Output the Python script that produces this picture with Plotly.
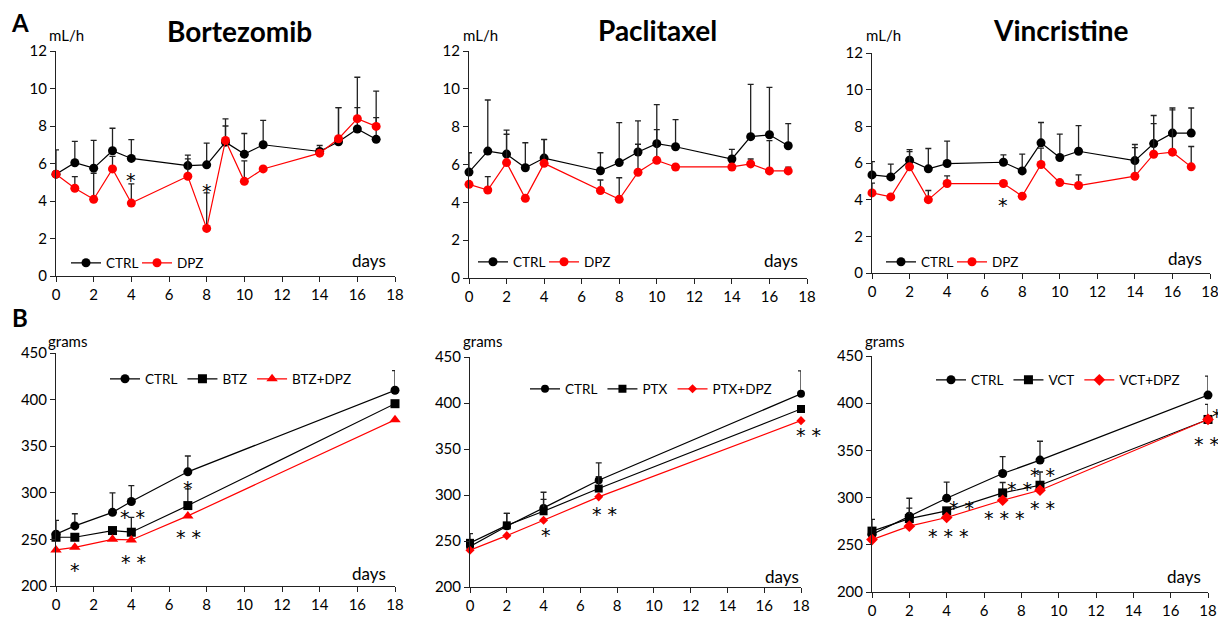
import plotly.graph_objects as go

# page body adds an 8px margin on the top/left; figure fills the rest of the 1226x621 window
OFF = 8
W, H = 1226 - OFF, 621 - OFF
FONT = "Lato"
RED = "#FF0000"
BLK = "#000000"

# ---------------- Panel A: mL/h ----------------
days_A = [0, 1, 2, 3, 4, 7, 8, 9, 10, 11, 14, 15, 16, 17]

btz_ctrl = [5.43, 6.04, 5.75, 6.68, 6.27, 5.89, 5.93, 7.14, 6.50, 7.00, 6.64, 7.16, 7.84, 7.29]
btz_ctrl_sd = [1.30, 1.14, 1.48, 1.20, 1.00, 0.56, 1.16, 1.24, 1.10, 1.30, 0.32, 1.82, 2.76, 2.57]
btz_dpz = [5.43, 4.68, 4.09, 5.71, 3.89, 5.32, 2.54, 7.23, 5.05, 5.71, 6.55, 7.32, 8.39, 7.98]
btz_dpz_sd = [0.00, 0.62, 1.39, 0.67, 1.02, 0.93, 1.89, 0.77, 1.09, 0.00, 0.00, 1.66, 0.59, 0.47]

ptx_ctrl = [5.60, 6.71, 6.55, 5.83, 6.34, 5.67, 6.10, 6.66, 7.10, 6.94, 6.29, 7.47, 7.57, 6.99]
ptx_ctrl_sd = [1.02, 2.70, 1.27, 1.32, 0.99, 0.95, 2.11, 1.65, 2.06, 1.43, 0.51, 2.77, 2.51, 1.17]
ptx_dpz = [4.95, 4.65, 6.10, 4.21, 6.06, 4.62, 4.16, 5.59, 6.22, 5.87, 5.87, 6.03, 5.66, 5.66]
ptx_dpz_sd = [0.00, 0.71, 1.50, 0.00, 1.25, 0.56, 1.14, 1.48, 1.62, 0.00, 0.00, 0.26, 1.60, 0.20]

vct_ctrl = [5.35, 5.24, 6.15, 5.68, 5.97, 6.04, 5.57, 7.10, 6.30, 6.64, 6.13, 7.06, 7.63, 7.63]
vct_ctrl_sd = [0.73, 0.70, 0.58, 1.11, 1.22, 0.40, 0.91, 1.11, 1.27, 1.40, 0.88, 1.53, 1.37, 1.37]
vct_dpz = [4.37, 4.15, 5.79, 4.00, 4.88, 4.88, 4.19, 5.92, 4.93, 4.77, 5.28, 6.48, 6.59, 5.79]
vct_dpz_sd = [0.53, 0.00, 0.83, 0.50, 0.42, 0.00, 0.00, 0.89, 0.00, 0.58, 1.56, 1.67, 2.31, 1.11]

# ---------------- Panel B: grams ----------------
days_B1 = [0, 1, 3, 4, 7, 18]
b1_ctrl = [255.5, 264.5, 279.0, 290.7, 322.5, 410.0]
b1_ctrl_sd = [15, 13, 21, 17, 17, 21]
b1_btz = [252.3, 252.3, 259.5, 257.7, 286.3, 395.6]
b1_btz_sd = [0, 0, 0, 16, 18, 0]
b1_btz_dpz = [238.7, 241.5, 250.1, 249.4, 275.2, 378.4]

days_B2 = [0, 2, 4, 7, 18]
b2_ctrl = [244.0, 266.0, 286.0, 316.0, 410.0]
b2_ctrl_sd = [14, 14, 17, 19, 25]
b2_ptx = [248.0, 267.0, 282.3, 307.0, 393.5]
b2_ptx_sd = [0, 13, 13, 13, 0]
b2_ptx_dpz = [240.0, 255.8, 272.5, 298.0, 380.8]

days_B3 = [0, 2, 4, 7, 9, 18]
b3_ctrl = [261.0, 280.3, 299.4, 325.5, 339.7, 408.6]
b3_ctrl_sd = [16, 19, 17, 18, 20, 20]
b3_vct = [264.5, 277.8, 286.0, 305.0, 313.1, 382.8]
b3_vct_sd = [0, 11, 0, 11, 14, 16]
b3_vct_dpz = [255.5, 269.7, 278.9, 297.2, 307.8, 382.8]

titles = ["Bortezomib", "Paclitaxel", "Vincristine"]

# significance marks: (panel, day, value, text)
stars = [
    (1, 4.0, 5.36, "*"), (1, 8.0, 4.79, "*"),
    (3, 7.0, 3.99, "*"),
    (4, 1.0, 222.5, "*"), (4, 4.06, 279.7, "* *"), (4, 4.1, 231.0, "* *"),
    (4, 7.03, 311.0, "*"), (4, 7.06, 258.3, "* *"),
    (5, 4.13, 262.0, "*"), (5, 7.3, 284.4, "* *"), (5, 18.4, 370.6, "* *"),
    (6, 4.77, 294.0, "* *"), (6, 4.1, 264.6, "* * *"), (6, 7.9, 314.4, "* *"),
    (6, 7.12, 283.4, "* * *"), (6, 9.14, 329.2, "* *"), (6, 9.14, 294.6, "* *"),
    (6, 18.5, 391.8, "*"), (6, 17.9, 361.8, "* *"),
]


def fx(px):
    return (px - OFF) / W


def fy(py):
    return 1 - (py - OFF) / H


# panel pixel boxes in window pixels (left, right, top, bottom)
boxes = {
    1: (56, 395, 51, 276),
    2: (469, 807, 51, 278),
    3: (872, 1210, 53, 273),
    4: (56, 395, 353, 586),
    5: (470, 801, 357, 587),
    6: (872, 1208, 356, 592),
}

fig = go.Figure()


def ax_names(i):
    return ("x" if i == 1 else f"x{i}", "y" if i == 1 else f"y{i}")


def add(i, x, y, name, color, symbol, size, sd=None, legend=None, lw=1.2):
    xa, ya = ax_names(i)
    kw = {}
    if sd is not None:
        kw["error_y"] = dict(type="data", symmetric=False, array=sd,
                             arrayminus=[0] * len(sd), width=3,
                             thickness=1.3, color="#222222")
    fig.add_trace(go.Scatter(
        x=x, y=y, name=name, mode="lines+markers", xaxis=xa, yaxis=ya,
        line=dict(color=color, width=lw),
        marker=dict(color=color, symbol=symbol, size=size),
        cliponaxis=False, legend=legend, **kw))


# Panel A traces
A_data = [(btz_ctrl, btz_ctrl_sd, btz_dpz, btz_dpz_sd),
          (ptx_ctrl, ptx_ctrl_sd, ptx_dpz, ptx_dpz_sd),
          (vct_ctrl, vct_ctrl_sd, vct_dpz, vct_dpz_sd)]
for k, (c, csd, d, dsd) in enumerate(A_data):
    i = k + 1
    lg = "legend" if i == 1 else f"legend{i}"
    add(i, days_A, c, "CTRL", BLK, "circle", 9, csd, lg)
    add(i, days_A, d, "DPZ", RED, "circle", 9, dsd, lg)

# Panel B traces
lg = "legend4"
add(4, days_B1, b1_ctrl, "CTRL", BLK, "circle", 9, b1_ctrl_sd, lg)
add(4, days_B1, b1_btz, "BTZ", BLK, "square", 9, b1_btz_sd, lg)
add(4, days_B1, b1_btz_dpz, "BTZ+DPZ", RED, "triangle-up", 10, None, lg)
lg = "legend5"
add(5, days_B2, b2_ctrl, "CTRL", BLK, "circle", 8, b2_ctrl_sd, lg)
add(5, days_B2, b2_ptx, "PTX", BLK, "square", 8, b2_ptx_sd, lg)
add(5, days_B2, b2_ptx_dpz, "PTX+DPZ", RED, "diamond", 7, None, lg)
lg = "legend6"
add(6, days_B3, b3_ctrl, "CTRL", BLK, "circle", 9, b3_ctrl_sd, lg)
add(6, days_B3, b3_vct, "VCT", BLK, "square", 9, b3_vct_sd, lg)
add(6, days_B3, b3_vct_dpz, "VCT+DPZ", RED, "diamond", 9, None, lg)

layout = dict(width=W, height=H,
              margin=dict(l=0, r=0, t=0, b=0, pad=0, autoexpand=False),
              paper_bgcolor="white", plot_bgcolor="white",
              font=dict(family=FONT, size=15, color="black"))

for i, (l, r, t, b) in boxes.items():
    xa, ya = ax_names(i)
    xk = "xaxis" if i == 1 else f"xaxis{i}"
    yk = "yaxis" if i == 1 else f"yaxis{i}"
    layout[xk] = dict(domain=[fx(l), fx(r)], anchor=ya, range=[0, 18],
                      tickvals=list(range(0, 19, 2)), showgrid=False,
                      zeroline=False, showline=True, linecolor="#222",
                      linewidth=1, ticks="outside", ticklen=5,
                      tickcolor="#222", tickfont=dict(size=15),
                      automargin=False)
    if i <= 3:
        yr, yt = [0, 12], list(range(0, 13, 2))
    else:
        yr, yt = [200, 450], list(range(200, 451, 50))
    layout[yk] = dict(domain=[fy(b), fy(t)], anchor=xa, range=yr,
                      tickvals=yt, showgrid=False, zeroline=False,
                      showline=True, linecolor="#222", linewidth=1,
                      ticks="outside", ticklen=5, tickcolor="#222",
                      tickfont=dict(size=15), automargin=False)

# legends: (left px, centre y px, entry width or None)
leg_pos = {1: (66, 263, 26), 2: (473, 262, 26), 3: (881, 262, 26),
           4: (105, 379, None), 5: (525, 389, None), 6: (931, 380, None)}
for i, (px, py, ew) in leg_pos.items():
    key = "legend" if i == 1 else f"legend{i}"
    d = dict(x=fx(px), y=fy(py), xanchor="left",
             yanchor="middle", orientation="h",
             bgcolor="rgba(0,0,0,0)", font=dict(size=13.5),
             itemwidth=30, tracegroupgap=0)
    if ew:
        d.update(entrywidth=ew, entrywidthmode="pixels")
    layout[key] = d

fig.update_layout(**layout)

ann = []
# titles
for (txt, cx, cy) in zip(titles, [239, 657, 1061], [31, 30, 30]):
    ann.append(dict(text=f"<b>{txt}</b>", x=fx(cx), y=fy(cy),
                    xref="paper", yref="paper", showarrow=False,
                    xanchor="center", yanchor="middle",
                    font=dict(size=28)))
# panel letters
for (txt, cx, cy) in [("A", 20, 22), ("B", 20, 317)]:
    ann.append(dict(text=f"<b>{txt}</b>", x=fx(cx), y=fy(cy),
                    xref="paper", yref="paper", showarrow=False,
                    xanchor="center", yanchor="middle",
                    font=dict(size=24)))
# unit labels
for (txt, lx, cy) in [("mL/h", 47, 35), ("mL/h", 461, 35), ("mL/h", 864, 35),
                      ("grams", 46, 341), ("grams", 461, 341), ("grams", 863, 341)]:
    ann.append(dict(text=txt, x=fx(lx), y=fy(cy), xref="paper",
                    yref="paper", showarrow=False, xanchor="left",
                    yanchor="middle", font=dict(size=15)))
for (rx, cy) in [(388, 260), (800, 260), (1204, 258),
                 (388, 573), (801, 576), (1203, 576)]:
    ann.append(dict(text="days", x=fx(rx), y=fy(cy), xref="paper",
                    yref="paper", showarrow=False, xanchor="right",
                    yanchor="middle", font=dict(size=17)))
# significance asterisks (ones placed past the last day are anchored at
# day 18 and nudged right in pixels so they are not hidden)
for (p, dx, vy, txt) in stars:
    xa, ya = ax_names(p)
    l, r, _, _ = boxes[p]
    px_per_day = (r - l) / 18.0
    xs = 0
    if dx > 18:
        xs = (dx - 18) * px_per_day
        dx = 18
    ann.append(dict(text=txt, x=dx, y=vy, xref=xa, yref=ya, showarrow=False,
                    xanchor="center", yanchor="middle", xshift=xs,
                    font=dict(family="DejaVu Sans", size=19, color="black"),
                    yshift=-5))
fig.update_layout(annotations=ann)

fig.write_html("out.html")
